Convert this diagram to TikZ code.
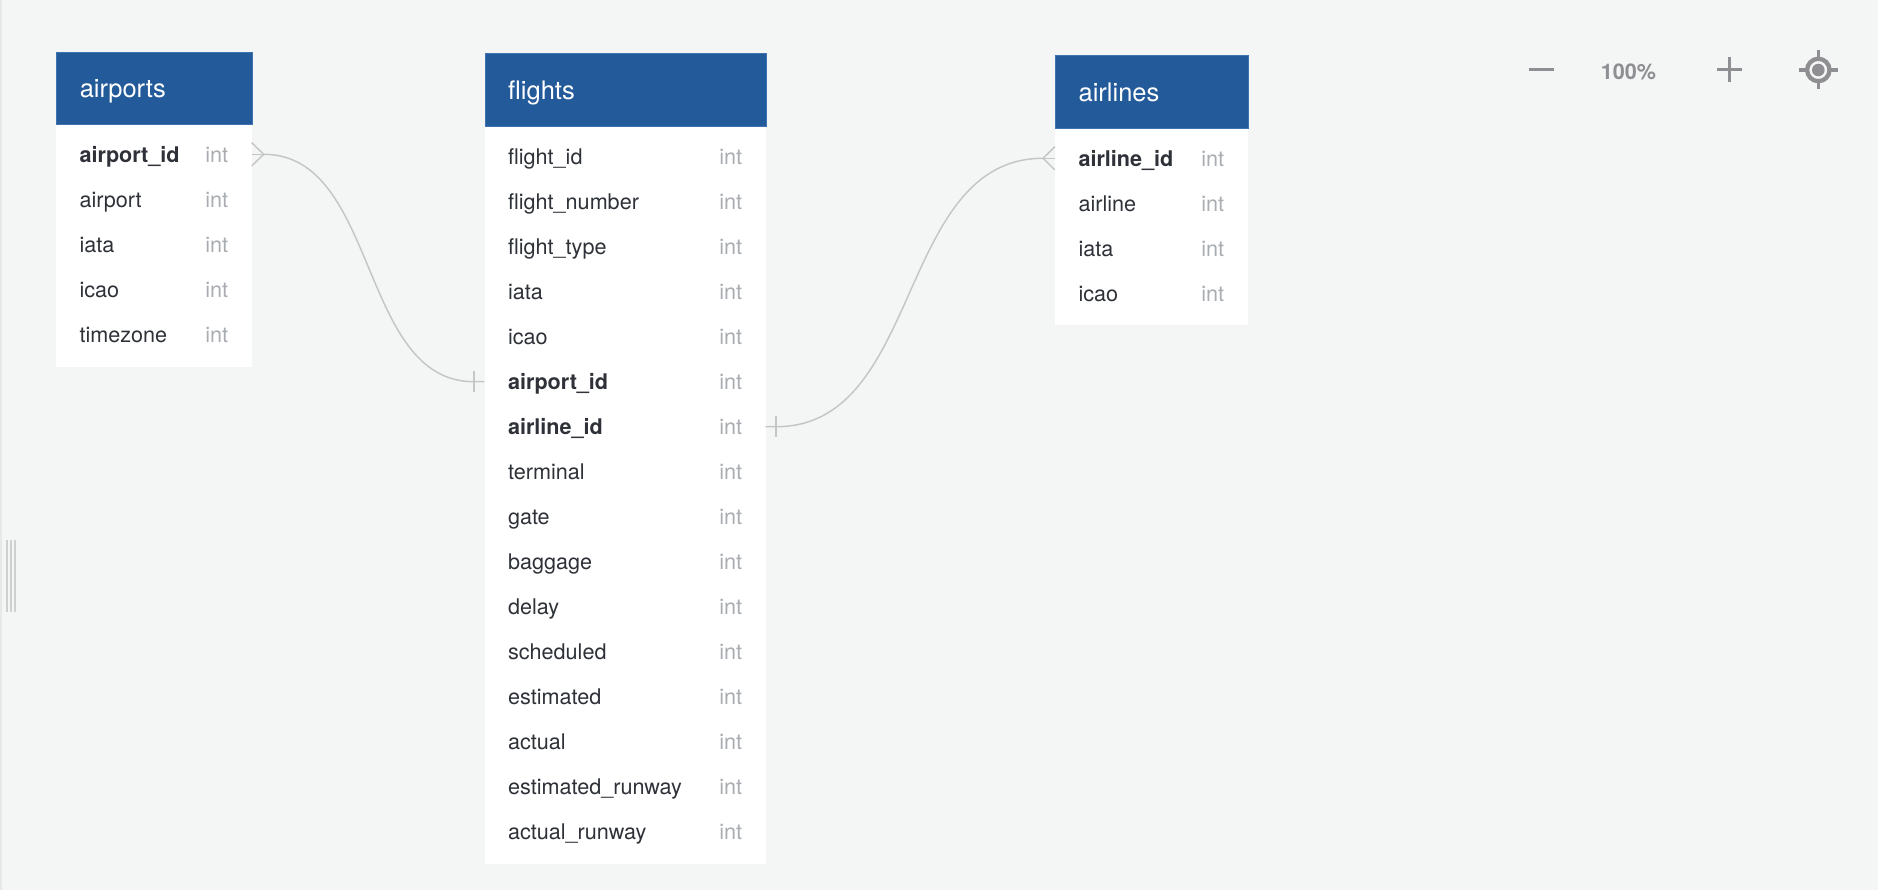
\documentclass[tikz,border=0pt]{standalone}
\usepackage{fontspec}
\setmainfont{TeX Gyre Heros}
\usetikzlibrary{calc}
\definecolor{bg}{HTML}{F4F6F5}
\definecolor{edgestrip}{HTML}{E6E8E8}
\definecolor{hdrblue}{HTML}{235A9A}
\definecolor{hdrline}{HTML}{3F72B0}
\definecolor{txt}{HTML}{2E3238}
\definecolor{typgray}{HTML}{A9ADB2}
\definecolor{relgray}{HTML}{C6C6C6}
\definecolor{ctrl}{HTML}{8E8E93}
\definecolor{handle}{HTML}{CFCFCF}
\newcommand\fldfont{\fontsize{21.6}{26}\selectfont}
\newcommand\ttlfont{\fontsize{25.5}{30}\selectfont}
\newcommand\zoomfont{\fontsize{21.6}{26}\selectfont\bfseries}
\newcommand\erow[6]{%
  \node[rowbox, minimum width=#4pt] (#1) at ({#2+#4/2},#3) {};
  \node[#6] (#1-name) at ([xshift=23.6pt,yshift=-8pt]#1.west) {#5};
  \node[typ] (#1-type) at ([xshift=-46.5pt,yshift=-8pt]#1.east) {int};
}
\tikzset{
  hdr/.style={fill=hdrblue, draw=hdrline, line width=1pt, minimum height=72.3pt, inner sep=0pt, anchor=north west},
  tbody/.style={fill=white, draw=none, inner sep=0pt, anchor=north west},
  rowbox/.style={draw=none, inner sep=0pt, minimum height=45pt},
  fld/.style={anchor=base west, font=\fldfont, text=txt, inner sep=0pt},
  fldb/.style={fld, font=\fldfont\bfseries},
  typ/.style={anchor=base west, font=\fldfont, text=typgray, inner sep=0pt},
  title/.style={anchor=base west, font=\ttlfont, text=white, inner sep=0pt},
  rel/.style={draw=relgray, line width=1.5pt},
  icon/.style={draw=ctrl, line width=3pt},
}
\begin{document}
\begin{tikzpicture}[x=1pt,y=-1pt]
\useasboundingbox (0,0) rectangle (1878,890);
\fill[bg] (0,0) rectangle (1878,890);
\fill[edgestrip] (0,0) rectangle (2,890);
% left handle
\foreach \hx in {6,10,14} \fill[handle] (\hx,540) rectangle (\hx+2,611.7);

% ---------- airports ----------
\node[tbody, minimum width=195.5pt, minimum height=242.4pt] (airports) at (56,124.3) {};
\node[hdr, minimum width=195.5pt] (airports-h) at (56,52) {};
\node[title] (airports-title) at (79.6,97.6) {airports};
\erow{ap1}{56}{154.3}{195.5}{airport\_id}{fldb}
\erow{ap2}{56}{199.3}{195.5}{airport}{fld}
\erow{ap3}{56}{244.3}{195.5}{iata}{fld}
\erow{ap4}{56}{289.3}{195.5}{icao}{fld}
\erow{ap5}{56}{334.3}{195.5}{timezone}{fld}

% ---------- flights ----------
\node[tbody, minimum width=281pt, minimum height=738.3pt] (flights) at (484.5,125.7) {};
\node[hdr, minimum width=281pt] (flights-h) at (484.5,53.4) {};
\node[title] (flights-title) at (508,99.2) {flights};
\erow{fl1}{484.5}{156.7}{281}{flight\_id}{fld}
\erow{fl2}{484.5}{201.7}{281}{flight\_number}{fld}
\erow{fl3}{484.5}{246.7}{281}{flight\_type}{fld}
\erow{fl4}{484.5}{291.7}{281}{iata}{fld}
\erow{fl5}{484.5}{336.7}{281}{icao}{fld}
\erow{fl6}{484.5}{381.7}{281}{airport\_id}{fldb}
\erow{fl7}{484.5}{426.7}{281}{airline\_id}{fldb}
\erow{fl8}{484.5}{471.7}{281}{terminal}{fld}
\erow{fl9}{484.5}{516.7}{281}{gate}{fld}
\erow{fl10}{484.5}{561.7}{281}{baggage}{fld}
\erow{fl11}{484.5}{606.7}{281}{delay}{fld}
\erow{fl12}{484.5}{651.7}{281}{scheduled}{fld}
\erow{fl13}{484.5}{696.7}{281}{estimated}{fld}
\erow{fl14}{484.5}{741.7}{281}{actual}{fld}
\erow{fl15}{484.5}{786.7}{281}{estimated\_runway}{fld}
\erow{fl16}{484.5}{831.7}{281}{actual\_runway}{fld}

% ---------- airlines ----------
\node[tbody, minimum width=192.5pt, minimum height=197.6pt] (airlines) at (1055,127.7) {};
\node[hdr, minimum width=192.5pt] (airlines-h) at (1055,55.4) {};
\node[title] (airlines-title) at (1078.4,101.2) {airlines};
\erow{al1}{1055}{158.3}{192.5}{airline\_id}{fldb}
\erow{al2}{1055}{203.3}{192.5}{airline}{fld}
\erow{al3}{1055}{248.3}{192.5}{iata}{fld}
\erow{al4}{1055}{293.3}{192.5}{icao}{fld}

% ---------- relation airports.airport_id -> flights.airport_id ----------
\coordinate (cf1) at ([xshift=12pt]ap1.east);
\coordinate (bar1) at ([xshift=-10.5pt]fl6.west);
\draw[rel] (cf1) -- ([yshift=11.6pt]ap1.east);
\draw[rel] (cf1) -- (ap1.east);
\draw[rel] (cf1) -- ([yshift=-11.6pt]ap1.east);
\draw[rel] (cf1) .. controls ([xshift=115pt]cf1) and ([xshift=-115pt]bar1) .. (bar1) -- (fl6.west);
\draw[rel] ([yshift=10.5pt]bar1) -- ([yshift=-10.5pt]bar1);

% ---------- relation flights.airline_id -> airlines.airline_id ----------
\coordinate (bar2) at ([xshift=10.5pt]fl7.east);
\coordinate (cf2) at ([xshift=-11.7pt]al1.west);
\draw[rel] (fl7.east) -- (bar2) .. controls ([xshift=147pt]bar2) and ([xshift=-147pt]cf2) .. (cf2);
\draw[rel] ([yshift=10.5pt]bar2) -- ([yshift=-10.5pt]bar2);
\draw[rel] (cf2) -- ([yshift=11.6pt]al1.west);
\draw[rel] (cf2) -- (al1.west);
\draw[rel] (cf2) -- ([yshift=-11.6pt]al1.west);

% ---------- zoom controls ----------
\draw[icon] (1529.3,69.5) -- (1554.3,69.5);
\node[anchor=base west, inner sep=0pt, font=\zoomfont, text=ctrl] (zoomlevel) at (1600.7,80) {100\%};
\draw[icon] (1717.3,69.5) -- (1741.7,69.5);
\draw[icon] (1729.5,57.3) -- (1729.5,81.7);
\draw[draw=ctrl, line width=4.3pt] (1818.3,70) circle[radius=11.2];
\fill[ctrl] (1818.3,70) circle[radius=6.3];
\draw[draw=ctrl, line width=3.5pt] (1818.3,50.5) -- (1818.3,58) (1818.3,82) -- (1818.3,89.5)
  (1798.8,70) -- (1806.3,70) (1830.3,70) -- (1837.8,70);
\end{tikzpicture}
\end{document}
